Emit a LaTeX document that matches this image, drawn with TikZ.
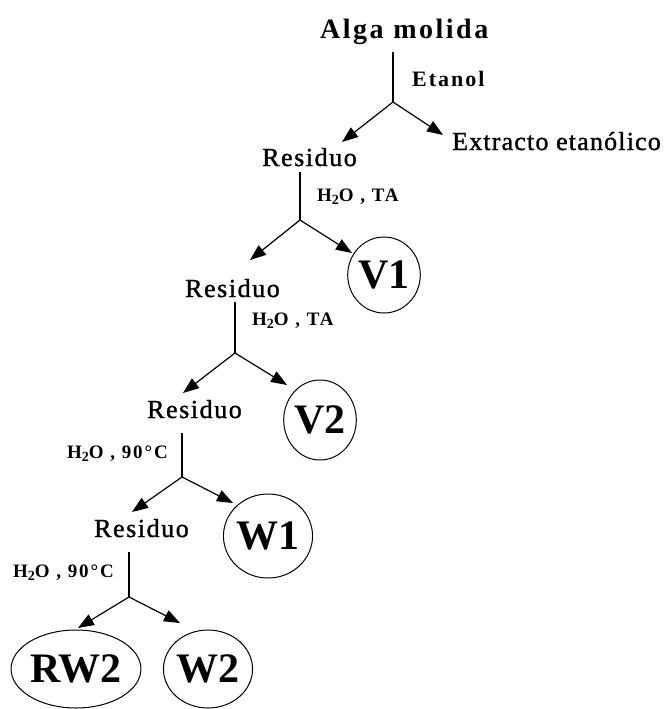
\documentclass[tikz,border=0pt]{standalone}
\usepackage{fontspec}
\setmainfont{Liberation Serif}
\usetikzlibrary{arrows.meta,shapes.geometric}
\newcommand\lowsub[1]{\raisebox{-0.45ex}{\fontsize{14}{14}\selectfont #1}}
\tikzset{
  lbl/.style={inner sep=0pt, anchor=base west},
  alg/.style={lbl, font=\fontsize{28}{30}\selectfont\bfseries\addfontfeatures{LetterSpace=9}},
  cond/.style={lbl, font=\fontsize{22}{24}\selectfont\bfseries\addfontfeatures{LetterSpace=9}},
  res/.style={lbl, font=\fontsize{26}{28}\selectfont\addfontfeatures{LetterSpace=6,FakeBold=1.2}},
  ext/.style={lbl, font=\fontsize{26}{28}\selectfont\addfontfeatures{LetterSpace=4.5,FakeBold=1.2}},
  wat/.style={lbl, font=\fontsize{19}{21}\selectfont\bfseries\addfontfeatures{LetterSpace=10}},
  frac/.style={draw, ellipse, line width=1pt, inner sep=0pt, font=\fontsize{42}{44}\selectfont\bfseries},
  stem/.style={line width=1.2pt},
  arr/.style={line width=1.2pt, -{Triangle[length=16pt,width=12pt]}},
}
\begin{document}
\begin{tikzpicture}[x=1pt,y=-1pt]
\useasboundingbox (0,0) rectangle (667,709);
% texts
\node[alg] (alga) at (320,38) {Alga molida};
\node[cond] (etanol) at (412,86) {Etanol};
\node[ext] (extr) at (452,150) {Extracto etanólico};
\node[res] (res1) at (262,166) {Residuo};
\node[wat] (w1t) at (317,201) {H\lowsub{2}O , TA};
\node[frac, minimum width=58pt, minimum height=76pt] (v1) at (384,275) {V1};
\node[res] (res2) at (185,297) {Residuo};
\node[wat] (w2t) at (252,325) {H\lowsub{2}O , TA};
\node[frac, minimum width=66pt, minimum height=80pt] (v2) at (320,420) {V2};
\node[res] (res3) at (147,418) {Residuo};
\node[wat] (w3t) at (67,458) {H\lowsub{2}O , 90°C};
\node[frac, minimum width=66pt, minimum height=84pt] (w1) at (268,536) {W1};
\node[res] (res4) at (94,537) {Residuo};
\node[wat] (w4t) at (13,577) {H\lowsub{2}O , 90°C};
\node[frac, minimum width=104pt, minimum height=78pt] (rw2) at (76,669) {RW2};
\node[frac, minimum width=80pt, minimum height=78pt] (w2) at (208,669) {W2};
% branch coordinates
\coordinate (t1) at (393,52);  \coordinate (b1) at (393,102);
\coordinate (l1) at (342,142); \coordinate (r1) at (443,135);
\coordinate (t2) at (300,172); \coordinate (b2) at (300,220);
\coordinate (l2) at (250,260); \coordinate (r2) at (352,253);
\coordinate (t3) at (235,302); \coordinate (b3) at (235,353);
\coordinate (l3) at (183,393); \coordinate (r3) at (287,385);
\coordinate (t4) at (182,433); \coordinate (b4) at (182,477);
\coordinate (l4) at (132,512); \coordinate (r4) at (233,503);
\coordinate (t5) at (129,552); \coordinate (b5) at (129,597);
\coordinate (l5) at (78,628);  \coordinate (r5) at (180,623);
% connectors
\foreach \i in {1,...,5}{
  \draw[stem] (t\i) -- (b\i);
  \draw[arr] (b\i) -- (l\i);
  \draw[arr] (b\i) -- (r\i);
}
\end{tikzpicture}
\end{document}
